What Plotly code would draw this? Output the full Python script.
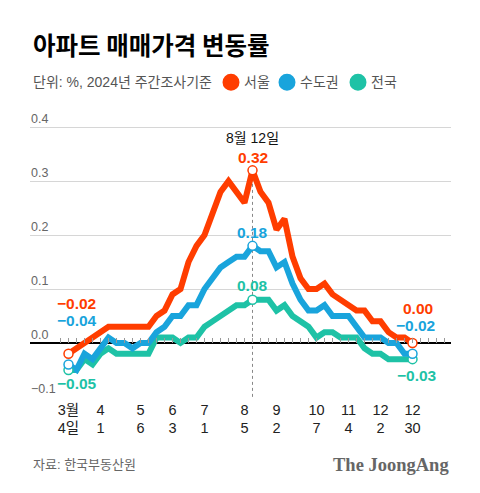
import plotly.graph_objects as go
import pandas as pd

# ---- data ----
dates = ["2024-03-04","2024-03-11","2024-03-18","2024-03-25","2024-04-01","2024-04-08","2024-04-15",
         "2024-04-22","2024-04-29","2024-05-06","2024-05-13","2024-05-20","2024-05-27","2024-06-03",
         "2024-06-10","2024-06-17","2024-06-24","2024-07-01","2024-07-08","2024-07-15","2024-07-22",
         "2024-07-29","2024-08-05","2024-08-12","2024-08-19","2024-08-26","2024-09-02","2024-09-09",
         "2024-09-16","2024-09-23","2024-09-30","2024-10-07","2024-10-14","2024-10-21","2024-10-28",
         "2024-11-04","2024-11-11","2024-11-18","2024-11-25","2024-12-02","2024-12-09","2024-12-16",
         "2024-12-23","2024-12-30"]

seoul = [-0.02,-0.01,0.00,0.01,0.02,0.03,0.03,0.03,0.03,0.03,0.03,
         0.05,0.06,0.09,0.10,0.15,0.18,0.20,0.24,0.28,0.30,0.28,0.26,
         0.32,0.28,0.26,0.21,0.23,0.16,0.12,0.10,0.10,0.11,
         0.09,0.08,0.07,0.06,0.06,0.04,0.04,0.02,0.01,0.01,0.00]

capital = [-0.04,-0.05,-0.02,-0.03,-0.01,0.01,0.00,0.00,-0.01,0.00,0.00,
           0.02,0.03,0.05,0.05,0.07,0.07,0.10,0.12,0.14,0.15,0.16,0.16,
           0.18,0.17,0.17,0.14,0.15,0.11,0.08,0.06,0.06,0.07,
           0.05,0.05,0.05,0.03,0.01,0.01,0.01,0.00,0.00,-0.02,-0.02]

national = [-0.05,-0.05,-0.03,-0.04,-0.02,-0.01,-0.02,-0.02,-0.02,-0.02,-0.02,
            0.01,0.01,0.01,0.00,0.01,0.01,0.03,0.04,0.05,0.06,0.07,0.07,
            0.08,0.08,0.08,0.06,0.07,0.05,0.04,0.03,0.01,0.02,
            0.02,0.01,0.01,0.01,-0.01,-0.02,-0.02,-0.03,-0.03,-0.03,-0.03]

series_names = ["서울", "수도권", "전국"]
y_ticks = [-0.1, 0.0, 0.1, 0.2, 0.3, 0.4]
tick_dates = ["2024-03-04","2024-04-01","2024-05-06","2024-06-03","2024-07-01","2024-08-05",
              "2024-09-02","2024-10-07","2024-11-04","2024-12-02","2024-12-30"]
tick_text = ["3월<br>4일","4<br>1","5<br>6","6<br>3","7<br>1","8<br>5","9<br>2",
             "10<br>7","11<br>4","12<br>2","12<br>30"]
peak_date = "2024-08-12"
peak_label = "8월 12일"
title_text = "아파트 매매가격 변동률"
subtitle_text = "단위: %, 2024년 주간조사기준"
source_text = "자료: 한국부동산원"
brand_text = "The JoongAng"

# ---- style / geometry ----
RED = "#FF3D00"
BLUE = "#19A4DC"
TEAL = "#1EC2A6"
W, H = 480, 493
SCALE = 540.0            # px per 1.0 on y
Y_MIN, Y_MAX = -0.1002, 0.43
L, R, B = 30, 29, 96
PH = (Y_MAX - Y_MIN) * SCALE
T = H - B - PH
PW = W - L - R
FONT = "Liberation Sans, Noto Sans CJK KR, sans-serif"
KFONT = "Noto Sans CJK KR, sans-serif"

def px_x(x):
    return (x - L) / PW

def px_y(y):
    return (H - B - y) / PH

def fmt(v):
    return f"{v:.2f}".replace("-", "\u2212")

d = pd.to_datetime(dates)
pad = pd.Timedelta(days=7 * 38.5 / 8)
x_range = [d[0] - pad, d[-1] + pad]
peak_i = dates.index(peak_date)

fig = go.Figure()

data = [(national, TEAL), (capital, BLUE), (seoul, RED)]
for vals, col in data:
    fig.add_trace(go.Scatter(x=dates, y=vals, mode="lines",
                             line=dict(color=col, width=6), hoverinfo="skip",
                             showlegend=False))
for vals, col in data:
    idx = [0, peak_i, len(dates) - 1]
    fig.add_trace(go.Scatter(x=[dates[i] for i in idx], y=[vals[i] for i in idx],
                             mode="markers",
                             marker=dict(size=9, color="white", line=dict(color=col, width=1.5)),
                             hoverinfo="skip", showlegend=False))

# invisible trace to carry the weekly tick axis
fig.add_trace(go.Scatter(x=dates, y=[None] * len(dates), xaxis="x2", mode="lines",
                         showlegend=False, hoverinfo="skip"))

# dotted vertical guide
fig.add_shape(type="line", x0=peak_date, x1=peak_date, y0=y_ticks[0], y1=seoul[peak_i],
              xref="x", yref="y", line=dict(color="#888888", width=1, dash="dot"),
              layer="below")

ann = []
ann.append(dict(x=peak_date, y=seoul[peak_i], text=peak_label, xref="x", yref="y",
                showarrow=False, yshift=32, font=dict(size=14, color="#111", family=FONT)))
for vals, col, ys in [(seoul, RED, 13), (capital, BLUE, 13), (national, TEAL, 14)]:
    ann.append(dict(x=peak_date, y=vals[peak_i], text=f"<b>{fmt(vals[peak_i])}</b>", xref="x", yref="y",
                    showarrow=False, yshift=ys, font=dict(size=15.5, color=col, family=FONT)))
for vals, col, xs, ys in [(seoul, RED, 8, 50), (capital, BLUE, 8, 44), (national, TEAL, 8, -14)]:
    ann.append(dict(x=dates[0], y=vals[0], text=f"<b>{fmt(vals[0])}</b>", xref="x", yref="y",
                    showarrow=False, xshift=xs, yshift=ys, font=dict(size=15.5, color=col, family=FONT)))
for vals, col, xs, ys in [(seoul, RED, 5.5, 34), (capital, BLUE, 3, 28.5), (national, TEAL, 4.5, -16.5)]:
    ann.append(dict(x=dates[-1], y=vals[-1], text=f"<b>{fmt(vals[-1])}</b>", xref="x", yref="y",
                    showarrow=False, xshift=xs, yshift=ys, font=dict(size=15.5, color=col, family=FONT)))

ann.append(dict(x=px_x(31), y=px_y(44), xref="paper", yref="paper", xanchor="left", yanchor="middle",
                text=f"<b>{title_text}</b>", showarrow=False,
                font=dict(size=24.5, color="#000", family=KFONT, weight=900)))
ann.append(dict(x=px_x(31), y=px_y(82), xref="paper", yref="paper", xanchor="left", yanchor="middle",
                text=subtitle_text, showarrow=False, font=dict(size=14, color="#555", family=FONT)))
legend_pos = [231, 287, 358]
for name, col, cx in zip(series_names, [RED, BLUE, TEAL], legend_pos):
    r = 8.5
    fig.add_shape(type="circle", xref="paper", yref="paper",
                  x0=px_x(cx - r), x1=px_x(cx + r), y0=px_y(82 + r), y1=px_y(82 - r),
                  fillcolor=col, line=dict(width=0))
    ann.append(dict(x=px_x(cx + 11), y=px_y(82), xref="paper", yref="paper", xanchor="left",
                    yanchor="middle", text=name, showarrow=False,
                    font=dict(size=14, color="#555", family=FONT)))
ann.append(dict(x=px_x(31), y=px_y(465), xref="paper", yref="paper", xanchor="left", yanchor="middle",
                text=source_text, showarrow=False, font=dict(size=13, color="#666", family=FONT)))
ann.append(dict(x=px_x(451), y=px_y(465), xref="paper", yref="paper", xanchor="right", yanchor="middle",
                text=f"<b>{brand_text}</b>", showarrow=False,
                font=dict(size=18.5, color="#666", family="Liberation Serif, DejaVu Serif, serif")))

fig.update_layout(
    width=W, height=H,
    margin=dict(l=L, r=R, t=T, b=B, pad=0),
    paper_bgcolor="white", plot_bgcolor="white",
    font=dict(family=FONT),
    annotations=ann,
    hovermode=False,
    xaxis=dict(type="date", range=x_range, tickvals=tick_dates, ticktext=tick_text,
               showgrid=False, zeroline=False, showline=False, ticks="",
               ticklabelstandoff=2,
               tickfont=dict(size=14.5, color="#222", family=FONT), tickangle=0),
    xaxis2=dict(type="date", overlaying="x", matches="x", anchor="free",
                position=(0 - Y_MIN) / (Y_MAX - Y_MIN),
                side="bottom", showgrid=False, zeroline=False, showline=False,
                ticks="inside", ticklen=5, tickwidth=1, tickcolor="#999",
                tick0=dates[0], dtick=7 * 86400000, showticklabels=False),
    yaxis=dict(range=[Y_MIN, Y_MAX], tickvals=y_ticks, tickformat=".1f",
               showgrid=True, gridcolor="#d6d6d6", gridwidth=1,
               zeroline=True, zerolinecolor="#000", zerolinewidth=1.3,
               showline=False, ticks="", ticklabelposition="inside top",
               ticklabelstandoff=-2,
               tickfont=dict(size=12.5, color="#666", family=FONT)),
    showlegend=False,
)

fig.write_html("out.html", config={"displayModeBar": False, "staticPlot": True},
               post_script="document.body.style.margin='0px';")
